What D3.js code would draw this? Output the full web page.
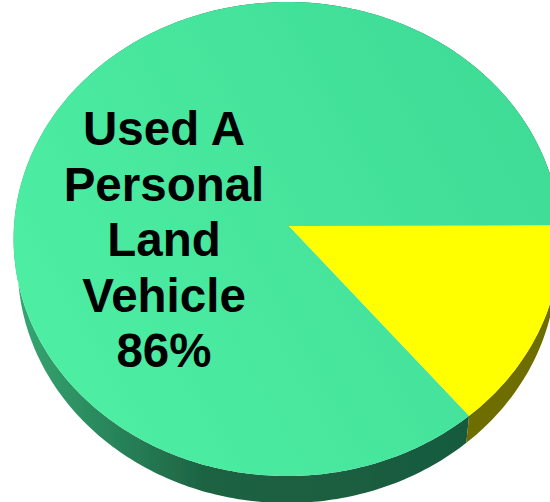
<!DOCTYPE html>
<html>
<head>
<meta charset="utf-8">
<script src="https://cdn.jsdelivr.net/npm/d3@7"></script>
<style>
  html, body { margin: 0; padding: 0; background: #fff; }
  svg { display: block; }
</style>
</head>
<body>
<svg id="pie" width="550" height="502"></svg>
<script>
// Data
var categories = ["Used A Personal Land Vehicle", "Other"];
var shares = [86, 14];
var labelLines = ["Used A", "Personal", "Land", "Vehicle", "86%"];

// Colors
var topColors = ["url(#topGreen)", "#ffff00"];
var wallColors = ["url(#wallGreen)", "#6e6e00"];

var svg = d3.select("#pie"),
    width = +svg.attr("width"),
    height = +svg.attr("height");

// Tilted disc: the apex sits above the middle of the ellipse
var apexX = 289, cx = 287, cy = 226, tilt = -0.0549, scaleX = 273, scaleY = 236.3;
// The lower rim is a bit narrower, so the wall fades out at the far left
var depth = 27, lowerScale = 0.985;

function rim(a) {
    var u = Math.sin(a), v = -Math.cos(a), w = 1 + tilt * v;
    return [cx + scaleX * u / w, cy + scaleY * v / w];
}

var pie = d3.pie()
    .sort(null)
    .startAngle(140.3 * Math.PI / 180)
    .endAngle(500.3 * Math.PI / 180);

var arcs = pie(shares);

var line = d3.line();

function rimPoints(d) {
    var n = Math.ceil((d.endAngle - d.startAngle) * 60);
    return d3.range(n + 1).map(function (i) {
        return rim(d.startAngle + (d.endAngle - d.startAngle) * i / n);
    });
}

// Gradients
var defs = svg.append("defs");

var topGrad = defs.append("linearGradient")
    .attr("id", "topGreen")
    .attr("gradientUnits", "userSpaceOnUse")
    .attr("x1", 14).attr("y1", 400).attr("x2", 550).attr("y2", 100);
topGrad.append("stop").attr("offset", 0).attr("stop-color", "#4ff0a4");
topGrad.append("stop").attr("offset", 1).attr("stop-color", "#3edb96");

var wallGrad = defs.append("linearGradient")
    .attr("id", "wallGreen")
    .attr("gradientUnits", "userSpaceOnUse")
    .attr("x1", 14).attr("y1", 0).attr("x2", 470).attr("y2", 0);
wallGrad.append("stop").attr("offset", 0).attr("stop-color", "#35a873");
wallGrad.append("stop").attr("offset", 0.42).attr("stop-color", "#1d6343");
wallGrad.append("stop").attr("offset", 1).attr("stop-color", "#185a3e");

defs.append("filter")
    .attr("id", "soft")
    .append("feGaussianBlur")
    .attr("stdDeviation", 0.5);

var g = svg.append("g").attr("filter", "url(#soft)");

// Side wall
g.selectAll("path.wall")
    .data(arcs)
    .enter()
    .append("path")
    .attr("class", "wall")
    .attr("fill", function (d, i) { return wallColors[i]; })
    .attr("d", function (d) {
        var pts = rimPoints(d);
        var low = pts.map(function (p) {
            return [cx + (p[0] - cx) * lowerScale, p[1] + depth];
        }).reverse();
        return line(pts.concat(low)) + "Z";
    });

// Top face
g.selectAll("path.slice")
    .data(arcs)
    .enter()
    .append("path")
    .attr("class", "slice")
    .attr("fill", function (d, i) { return topColors[i]; })
    .attr("d", function (d) {
        return line([[apexX, cy]].concat(rimPoints(d))) + "Z";
    });

// Label
svg.append("text")
    .attr("text-anchor", "middle")
    .attr("font-family", "'Liberation Sans', Arial, sans-serif")
    .attr("font-weight", "bold")
    .attr("font-size", 47.5)
    .attr("fill", "#000")
    .selectAll("tspan")
    .data(labelLines)
    .enter()
    .append("tspan")
    .attr("x", 164)
    .attr("y", function (d, i) { return 145 + i * 55.5; })
    .text(function (d) { return d; });
</script>
</body>
</html>
